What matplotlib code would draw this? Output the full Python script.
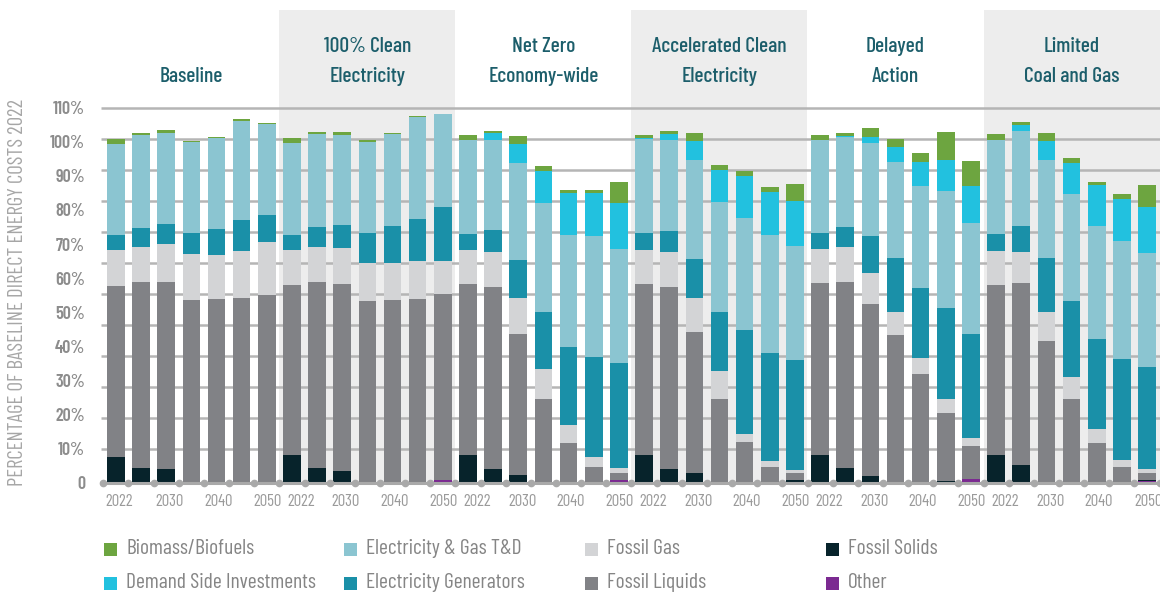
import matplotlib
matplotlib.use("Agg")
import matplotlib.pyplot as plt
from matplotlib import font_manager
from matplotlib.patches import Rectangle
import numpy as np

# ---- data: share of baseline 2022 direct energy costs (%) ----
scenarios = ["Baseline", "100% Clean\nElectricity", "Net Zero\nEconomy-wide",
             "Accelerated Clean\nElectricity", "Delayed\nAction", "Limited\nCoal and Gas"]
years = [2022, 2025, 2030, 2035, 2040, 2045, 2050]
year_labels = ["2022", "2030", "2040", "2050"]

# each list: 7 years per scenario, scenarios in the order above
other = [0, 0, 0, 0, 0, 0, 0,
         0, 0, 0, 0, 0, 0, 0.8,
         0, 0, 0, 0, 0, 0, 0.8,
         0, 0, 0, 0, 0, 0, 0,
         0, 0, 0, 0, 0, 0, 1.2,
         0, 0, 0, 0, 0, 0, 0.4]
fossil_solids = [7.6, 4.3, 4.0, 0, 0, 0, 0,
                 8.1, 4.3, 3.4, 0, 0, 0, 0,
                 8.1, 4.0, 2.2, 0, 0, 0, 0,
                 8.1, 4.0, 2.8, 0, 0, 0, 0.8,
                 8.1, 4.3, 2.0, 0, 0, 0.6, 0,
                 8.1, 5.2, 0, 0, 0, 0, 0.4]
fossil_liquids = [50.1, 54.6, 54.9, 53.6, 53.9, 54.2, 55.1,
                  49.9, 54.6, 54.9, 53.3, 53.6, 53.9, 54.5,
                  50.2, 53.4, 41.4, 24.5, 11.6, 4.6, 2.0,
                  50.2, 53.4, 41.4, 24.5, 11.9, 4.6, 2.0,
                  50.5, 54.6, 50.4, 43.3, 31.9, 19.8, 9.6,
                  49.9, 53.4, 41.6, 24.5, 11.6, 4.6, 2.0]
fossil_gas = [10.6, 10.2, 11.1, 13.5, 12.9, 13.8, 15.5,
              10.3, 10.2, 10.5, 11.1, 10.8, 11.1, 9.7,
              10.0, 10.3, 10.6, 8.8, 5.3, 2.9, 1.5,
              10.0, 10.3, 10.0, 8.3, 2.4, 1.8, 0.9,
              9.9, 10.2, 9.1, 6.8, 4.7, 4.1, 2.3,
              10.0, 9.1, 8.5, 6.5, 4.1, 2.0, 1.2]
elec_generators = [4.4, 5.6, 5.9, 6.1, 7.6, 9.1, 7.9,
                   4.4, 5.9, 6.8, 8.8, 10.9, 12.3, 15.9,
                   4.6, 6.4, 11.1, 16.8, 22.9, 29.4, 30.8,
                   4.9, 6.1, 11.4, 17.3, 30.5, 31.6, 32.3,
                   4.7, 5.9, 10.9, 15.8, 20.5, 26.7, 30.5,
                   4.9, 7.6, 15.8, 22.3, 26.4, 29.7, 29.9]
elec_gas_td = [26.7, 27.3, 26.7, 26.7, 26.7, 29.0, 26.7,
               26.9, 27.3, 26.4, 26.7, 27.0, 30.0, 27.2,
               27.6, 26.4, 28.5, 31.9, 32.9, 35.5, 33.4,
               27.6, 26.7, 29.1, 32.2, 32.8, 34.7, 33.4,
               27.3, 26.4, 27.2, 28.2, 29.9, 34.4, 32.6,
               27.6, 27.9, 28.8, 31.4, 33.2, 34.6, 33.5]
demand_side = [0, 0, 0, 0, 0, 0, 0,
               0, 0, 0, 0, 0, 0, 0,
               0, 2.1, 5.5, 9.4, 12.3, 12.6, 13.5,
               0.3, 1.8, 5.5, 9.4, 12.4, 12.6, 13.2,
               0, 0.3, 1.8, 4.4, 7.1, 9.1, 10.8,
               0, 1.7, 5.5, 9.1, 12.0, 12.3, 13.5]
biomass = [1.4, 0.6, 0.9, 0.3, 0.3, 0.6, 0.3,
           1.5, 0.6, 0.9, 0.6, 0.3, 0.4, 0,
           1.5, 0.6, 2.4, 1.5, 0.9, 0.9, 6.2,
           0.9, 0.9, 2.4, 1.5, 1.4, 1.4, 5.0,
           1.5, 0.9, 2.6, 2.3, 2.6, 8.2, 7.4,
           1.8, 0.9, 2.4, 1.4, 0.9, 1.5, 6.4]

# stacking order (bottom -> top)
series = [
    ("Other", other, "#7b2a91"),
    ("Fossil Solids", fossil_solids, "#07232b"),
    ("Fossil Liquids", fossil_liquids, "#818286"),
    ("Fossil Gas", fossil_gas, "#d3d4d6"),
    ("Electricity Generators", elec_generators, "#1a90a8"),
    ("Electricity & Gas T&D", elec_gas_td, "#8bc5d1"),
    ("Demand Side Investments", demand_side, "#22c1df"),
    ("Biomass/Biofuels", biomass, "#6da540"),
]
colors = {name: c for name, _, c in series}

# ---- fonts ----
FAMILY = ["Barlow Condensed", "Roboto Condensed", "DejaVu Sans"]


def fp(size, weight="normal"):
    return font_manager.FontProperties(family=FAMILY, size=size, weight=weight)


W, H = 1160, 597
fig = plt.figure(figsize=(W / 100, H / 100), dpi=100)

# axis frame in pixel terms
x0_px, x1_px = 103.3, 1159.6
zero_px, top_px = 482.7, 10.0
px_per_pct = 3.409
ymax = (zero_px - top_px) / px_per_pct
ax = fig.add_axes([x0_px / W, 1 - zero_px / H, (x1_px - x0_px) / W, (zero_px - top_px) / H])

n_years = len(years)
n_bars = len(scenarios) * n_years
x = np.arange(n_bars)
ax.set_xlim(-0.5, n_bars - 0.5)
ax.set_ylim(0, ymax)

# shaded scenario bands
for i in range(len(scenarios)):
    if i % 2 == 1:
        ax.axvspan(i * n_years - 0.5, (i + 1) * n_years - 0.5, ymin=0, ymax=1,
                   color="#ededed", lw=0, zorder=0)

# horizontal guide lines
for g in np.linspace(10, 110, 12):
    ax.plot([-0.6, n_bars - 0.5], [g, g], color="#b5b5b5", lw=1.8, zorder=1,
            clip_on=False, solid_capstyle="butt")

# stacked bars
bottom = np.zeros(n_bars)
for name, vals, color in series:
    v = np.array(vals, dtype=float)
    ax.bar(x, v, bottom=bottom, width=0.70, color=color, lw=0, zorder=3)
    bottom += v

# baseline axis with dots at slot boundaries
ax.plot([-0.5, n_bars - 0.5], [0, 0], color="#a9a9a9", lw=2.2, zorder=4, clip_on=False)
ax.plot(np.arange(n_bars + 1) - 0.5, np.zeros(n_bars + 1), "o", color="#a9a9a9",
        ms=4.5, zorder=5, clip_on=False)

# scenario titles
title_fp = fp(15.5, "medium")
for i, s in enumerate(scenarios):
    cx = i * n_years + (n_years - 1) / 2
    lines = s.split("\n")
    ys = [77] if len(lines) == 1 else [47, 76]
    for line, ypx in zip(lines, ys):
        ax.text(cx, (zero_px - ypx) / px_per_pct, line, ha="center", va="center",
                fontproperties=title_fp, color="#1c5e6b")

# y ticks
ax.set_yticks(np.arange(0, 111, 10))
ax.set_yticklabels(["0"] + [f"{v}%" for v in range(10, 111, 10)])
for lbl in ax.get_yticklabels():
    lbl.set_fontproperties(fp(13, "semibold"))
    lbl.set_color("#8c8c8c")
ax.tick_params(axis="y", length=0, pad=13)

# x ticks: every other year; the first label of each later group is nudged
# right so it clears the preceding group's 2050
tick_pos, tick_lab = [], []
for i in range(len(scenarios)):
    base = i * n_years
    offsets = [0.35 if i > 0 else 0.14, 0.15, 0.07, 0.04]
    for k, (lab, off) in enumerate(zip(year_labels, offsets)):
        tick_pos.append(base + 2 * k + off)
        tick_lab.append(lab)
ax.set_xticks(tick_pos)
ax.set_xticklabels(tick_lab)
for lbl in ax.get_xticklabels():
    lbl.set_fontproperties(fp(12))
    lbl.set_color("#9a9a9a")
ax.tick_params(axis="x", length=0, pad=8)

for sp in ax.spines.values():
    sp.set_visible(False)
ax.set_facecolor("none")

fig.text(18 / W, 1 - 292 / H, "PERCENTAGE OF BASELINE DIRECT ENERGY COSTS 2022",
         rotation=90, ha="center", va="center", fontproperties=fp(15), color="#a6a6a6")

# legend, laid out in four columns of two rows
legend_cols = [["Biomass/Biofuels", "Demand Side Investments"],
               ["Electricity & Gas T&D", "Electricity Generators"],
               ["Fossil Gas", "Fossil Liquids"],
               ["Fossil Solids", "Other"]]
col_x = [104, 344, 585, 826]
row_y = [549, 583]
sq = 13
for cx_px, names in zip(col_x, legend_cols):
    for ry, name in zip(row_y, names):
        fig.patches.append(Rectangle((cx_px / W, 1 - (ry + sq / 2) / H), sq / W, sq / H,
                                     transform=fig.transFigure, color=colors[name], lw=0))
        fig.text((cx_px + 22) / W, 1 - ry / H, name, ha="left", va="center",
                 fontproperties=fp(15.5), color="#858585")

fig.savefig("out.png", dpi=100, facecolor="white")
